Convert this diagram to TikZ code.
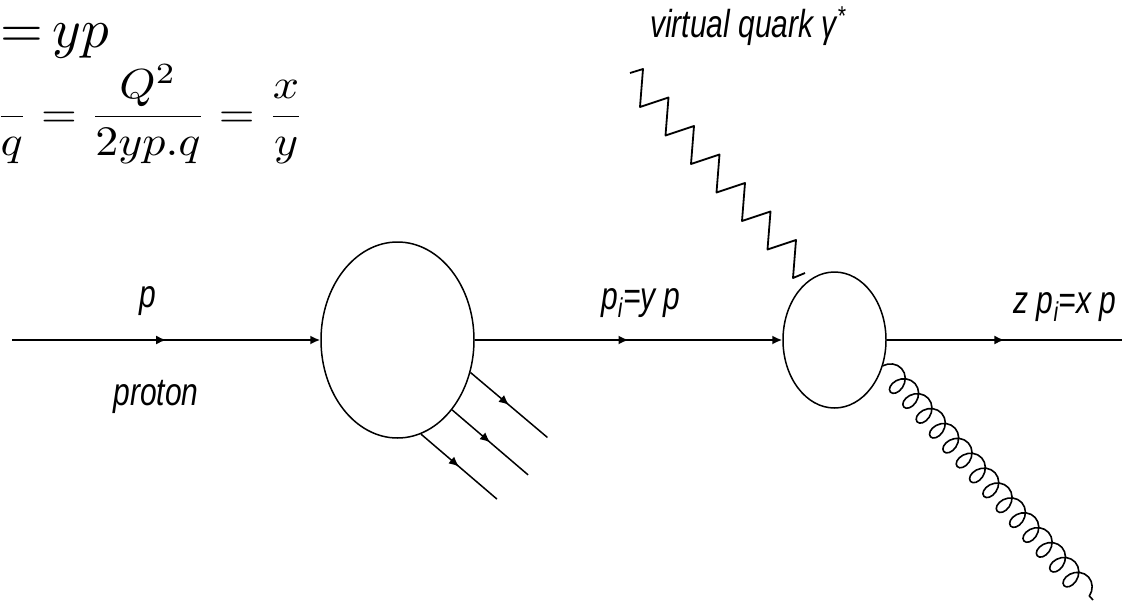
\documentclass[tikz,border=0pt]{standalone}
\usepackage[no-math]{fontspec}
\setmainfont{Liberation Sans}
\usepackage{graphicx}
\usepackage{tikz}
\usetikzlibrary{arrows.meta,decorations.markings,decorations.pathmorphing,shapes.geometric}

\newcommand{\tallText}[1]{\scalebox{1}[1.3]{#1}}
\newcommand{\bigMath}[1]{\scalebox{4.6}[4.2]{#1}}

\tikzset{
  fermion/.style={line width=1.8pt, postaction={decorate},
    decoration={markings, mark=at position 0.5 with {\arrow{Latex[length=10pt,width=9pt]}}}},
  blob/.style={draw, ellipse, line width=1.5pt, inner sep=0pt},
  photon/.style={line width=1.8pt, line join=round},
  gluon/.style={line width=1.6pt, decorate,
    decoration={coil, amplitude=12pt, segment length=20pt, aspect=0.8}},
  lab/.style={font=\fontsize{30}{36}\selectfont\itshape, inner sep=0pt, anchor=base},
  eqn/.style={inner sep=0pt, anchor=base west},
}

\begin{document}
\begin{tikzpicture}[x=1pt, y=-1pt, >={Latex[length=10pt,width=9pt]}]
\useasboundingbox (0,0) rectangle (1122,608);

% the two blobs
\node[blob, minimum width=153pt, minimum height=196pt] (hadron) at (397.5,340) {};
\node[blob, minimum width=103pt, minimum height=136pt] (vertex) at (834.5,340) {};

% quark line through the diagram
\coordinate (pin) at (12,340);
\coordinate (pout) at (1122,340);
\draw[fermion, ->] (pin) -- (hadron.west);
\draw[fermion, ->] (hadron.east) -- (vertex.west);
\draw[fermion] (vertex.east) -- (pout);

% spectator lines
\draw[fermion, line width=1.5pt] (hadron.-24) -- ++(77,65);
\draw[fermion, line width=1.5pt] (hadron.-52) -- ++(76,65);
\draw[fermion, line width=1.5pt] (hadron.-76) -- ++(76,65);

% photon
\coordinate (gam) at (630,73);
\draw[photon] (gam) -- ++(13,-4)
  foreach \k in {1,...,6} { -- ++(-3,38) -- ++(28.5,-9.5) }
  -- ++(-3,38) -- ++(12,-5);

% gluon
\coordinate (gend) at (1093,600);
\draw[gluon] (vertex.-28) -- (gend);

% labels
\node[lab] (lp) at (148,307) {\tallText{p}};
\node[lab] (lproton) at (156,405) {\tallText{proton}};
\node[lab] (lpi) at (641,309) {\tallText{p\textsubscript{i}=y p}};
\node[lab] (lzp) at (1065,313) {\tallText{z p\textsubscript{i}=x p}};
\node[lab] (lvq) at (748,37) {\tallText{virtual quark γ\textsuperscript{*}}};

% kinematics
\node[eqn] (eqtop) at (0,47) {\scalebox{5.5}{${=}\,yp$}};
\node[eqn] (eqbot) at (-5,127) {\bigMath{$\displaystyle\frac{}{q}=\frac{Q^2}{2yp.q}=\frac{x}{y}$}};
\end{tikzpicture}
\end{document}
